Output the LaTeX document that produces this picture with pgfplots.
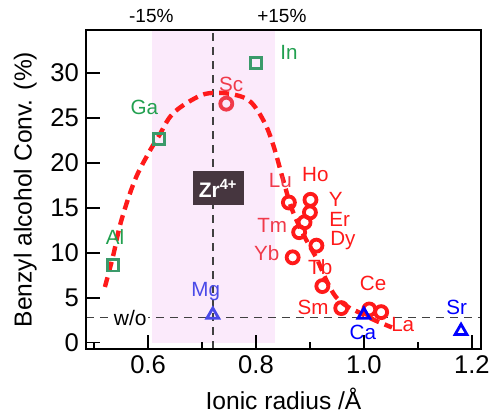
\documentclass[border=0pt]{standalone}
\usepackage{fontspec}
\setmainfont{Liberation Sans}
\usepackage{pgfplots}
\pgfplotsset{compat=1.18}
\definecolor{band}{HTML}{FBEAFB}
\definecolor{myred}{HTML}{FF1A1A}
\definecolor{scred}{HTML}{F03A4A}
\definecolor{mygreen}{HTML}{3A9A6A}
\definecolor{lgreen}{HTML}{22A050}
\definecolor{myblue}{HTML}{0000FF}
\definecolor{mgblue}{HTML}{4A4AE8}
\definecolor{zrbox}{HTML}{46363F}
\definecolor{dgrey}{HTML}{404040}
\begin{document}
\begin{tikzpicture}
\begin{axis}[
 scale only axis, width=197.5pt, height=159.5pt,
 xmin=0.485, xmax=1.217, ymin=-0.7, ymax=34.8,
 xtick={0.6,0.8,1.0,1.2}, xticklabels={0.6,0.8,1.0,1.2},
 minor xtick={0.5,0.7,0.9,1.1},
 ytick={0,5,10,15,20,25,30},
 xtick pos=bottom, ytick pos=left,
 tick align=inside, major tick length=7pt, minor tick length=3.5pt,
 tick style={black, line width=0.8pt},
 axis line style={line width=1pt},
 axis on top,
 clip=false,
 every tick label/.append style={font=\fontsize{12.8}{14}\selectfont},
 /pgf/number format/assume math mode=true,
 xlabel={Ionic radius /Å}, ylabel={Benzyl alcohol Conv. (\%)},
 label style={font=\fontsize{12.3}{14}\selectfont},
]
% pink band
\addplot[draw=none, fill=band] coordinates {(0.607,0) (0.835,0) (0.835,34.8) (0.607,34.8)} -- cycle;
% reference lines
\addplot[dgrey, line width=0.8pt, dash pattern=on 4pt off 3pt] coordinates {(0.72,-0.7) (0.72,34.8)};
\addplot[dgrey, line width=0.8pt, dash pattern=on 4pt off 3pt] coordinates {(0.485,2.8) (1.217,2.8)};
% fitted dashed curve
\addplot[myred, line width=2.2pt, dash pattern=on 5pt off 3pt, smooth, tension=0.6] coordinates {
 (0.52,6.2) (0.535,9.6) (0.55,13.5) (0.575,18) (0.60,21) (0.62,23) (0.646,25.5)
 (0.69,27.3) (0.72,27.8) (0.76,27.6) (0.79,26.8) (0.815,24.6) (0.832,22)
 (0.85,18.2) (0.867,14.8) (0.89,11.8) (0.913,9.3) (0.93,7) (0.948,5.1)
 (0.97,4.0) (0.99,3.4) (1.02,2.5) (1.052,1.7)};
% green squares
\addplot[only marks, mark=square, mark size=2.8pt, mygreen, line width=1.4pt] coordinates {(0.535,8.6) (0.62,22.7) (0.80,31.1)};
% red circles
\addplot[only marks, mark=o, mark size=3pt, myred, line width=1.9pt] coordinates {
 (0.861,15.6) (0.901,15.9) (0.90,14.5) (0.89,13.4) (0.88,12.3) (0.912,10.8)
 (0.868,9.5) (0.923,6.3) (0.958,3.85) (1.01,3.7) (1.032,3.4)};
\addplot[only marks, mark=o, mark size=3pt, scred, line width=1.9pt] coordinates {(0.745,26.6)};
% blue triangles
\addplot[only marks, mark=triangle, mark size=3.4pt, myblue, line width=1.4pt] coordinates {(1.0,3.1) (1.18,1.3)};
\addplot[only marks, mark=triangle, mark size=3.4pt, mgblue, line width=1.4pt] coordinates {(0.72,3.1)};
% Zr box
\node[fill=zrbox, text=white, font=\fontsize{10.5}{12}\selectfont\bfseries, inner sep=3pt, minimum width=25pt, minimum height=17pt] at (axis cs:0.73,17.2) {Zr\textsuperscript{4+}};
% labels
\node[fill=white, inner sep=0.5pt, font=\fontsize{10.5}{12}\selectfont] at (axis cs:0.567,2.8) {w/o};
\node[font=\fontsize{9.5}{11}\selectfont] at (axis cs:0.606,36.4) {-15\%};
\node[font=\fontsize{9.5}{11}\selectfont] at (axis cs:0.848,36.4) {+15\%};
\begin{scope}[every node/.style={font=\fontsize{10.3}{12}\selectfont}]
\node[text=lgreen] at (axis cs:0.861,32.3) {In};
\node[text=lgreen] at (axis cs:0.593,26.2) {Ga};
\node[text=lgreen] at (axis cs:0.539,11.8) {Al};
\node[text=scred] at (axis cs:0.754,28.7) {Sc};
\node[text=mgblue] at (axis cs:0.707,5.7) {Mg};
\node[text=scred] at (axis cs:0.845,18.1) {Lu};
\node[text=myred] at (axis cs:0.91,18.7) {Ho};
\node[text=myred] at (axis cs:0.948,15.9) {Y};
\node[text=myred] at (axis cs:0.955,13.7) {Er};
\node[text=scred] at (axis cs:0.83,13.0) {Tm};
\node[text=myred] at (axis cs:0.961,11.4) {Dy};
\node[text=scred] at (axis cs:0.82,10.0) {Yb};
\node[text=myred] at (axis cs:0.919,8.4) {Tb};
\node[text=myred] at (axis cs:1.017,6.6) {Ce};
\node[text=myred] at (axis cs:0.906,3.9) {Sm};
\node[text=myred] at (axis cs:1.072,2.0) {La};
\node[text=myblue] at (axis cs:0.998,1.1) {Ca};
\node[text=myblue] at (axis cs:1.172,3.9) {Sr};
\end{scope}
\coordinate (SW) at (rel axis cs:0,0);
\coordinate (NE) at (rel axis cs:1,1);
\end{axis}
\pgfresetboundingbox
\path ([shift={(-43pt,-33pt)}]SW) rectangle ([shift={(6.5pt,15pt)}]NE);
\end{tikzpicture}
\end{document}
